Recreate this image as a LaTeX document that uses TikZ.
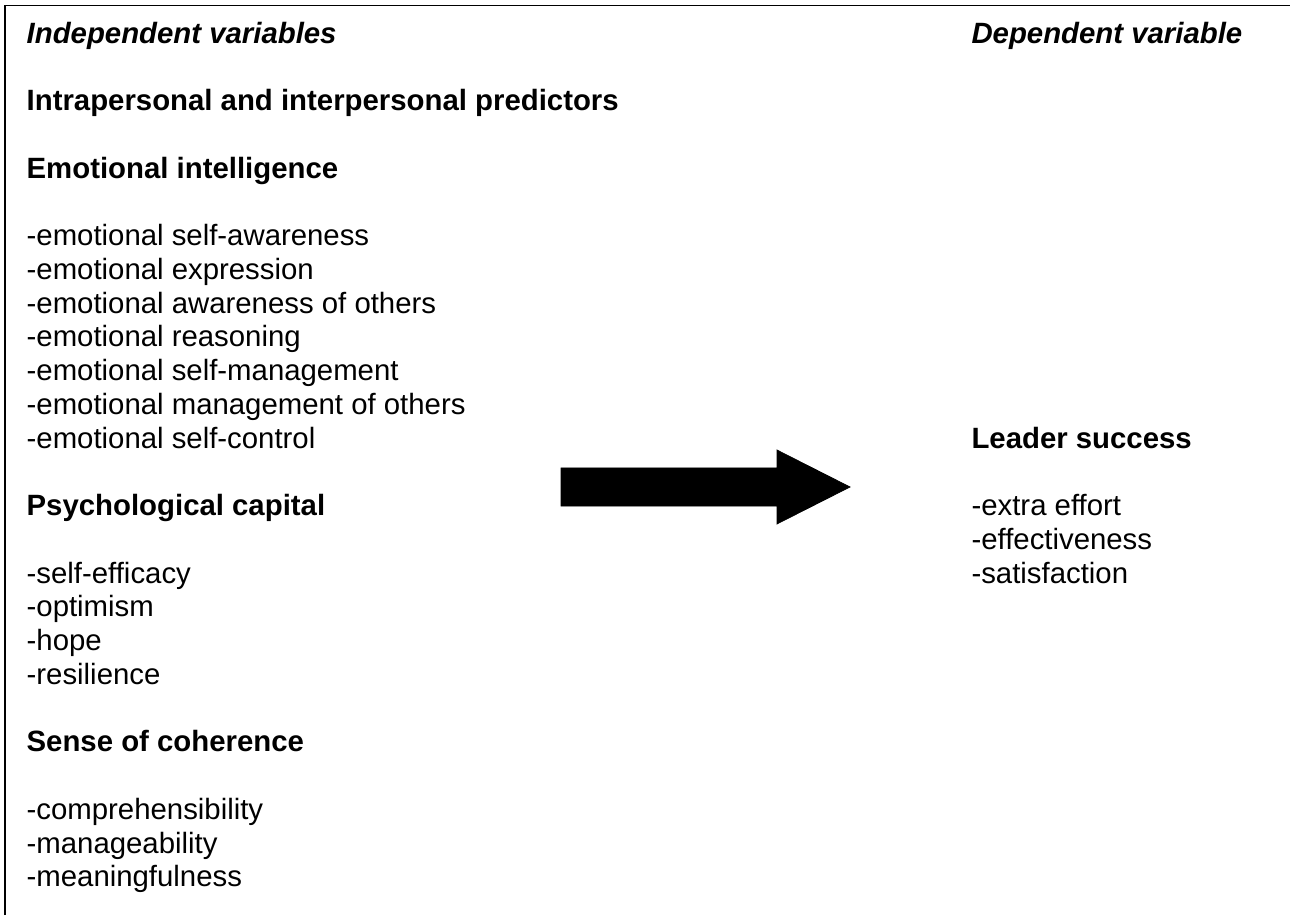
\documentclass[tikz,border=0pt]{standalone}
\usepackage{fontspec}
\setmainfont{Liberation Sans}
\begin{document}
\begin{tikzpicture}[x=1pt,y=1pt,
  txt/.style={anchor=base west, inner sep=0pt, font=\fontsize{12}{13.8}\selectfont},
  hd/.style={txt, font=\fontsize{12}{13.8}\selectfont\bfseries},
  ihd/.style={txt, font=\fontsize{12}{13.8}\selectfont\bfseries\itshape},
  frame/.style={line width=0.7pt, black},
  blockarrow/.style={fill=black, draw=black, line width=0.3pt}
]
\useasboundingbox (0,0) rectangle (527.4,-374.1);
% frame (top and left edges)
\draw[frame] (2,-374.1) -- (2,-2.2) -- (527.4,-2.2);

% left column
\node[ihd] (indep) at (10.7,-17.6) {Independent variables};
\node[hd] (intra) at (10.7,-45.2) {Intrapersonal and interpersonal predictors};
\node[hd] (ei) at (10.7,-72.8) {Emotional intelligence};
\node[txt] (ei1) at (10.7,-100.4) {-emotional self-awareness};
\node[txt] (ei2) at (10.7,-114.2) {-emotional expression};
\node[txt] (ei3) at (10.7,-128.0) {-emotional awareness of others};
\node[txt] (ei4) at (10.7,-141.8) {-emotional reasoning};
\node[txt] (ei5) at (10.7,-155.6) {-emotional self-management};
\node[txt] (ei6) at (10.7,-169.4) {-emotional management of others};
\node[txt] (ei7) at (10.7,-183.2) {-emotional self-control};
\node[hd] (pc) at (10.7,-210.8) {Psychological capital};
\node[txt] (pc1) at (10.7,-238.4) {-self-efficacy};
\node[txt] (pc2) at (10.7,-252.2) {-optimism};
\node[txt] (pc3) at (10.7,-266.0) {-hope};
\node[txt] (pc4) at (10.7,-279.8) {-resilience};
\node[hd] (soc) at (10.7,-307.4) {Sense of coherence};
\node[txt] (soc1) at (10.7,-335.0) {-comprehensibility};
\node[txt] (soc2) at (10.7,-348.8) {-manageability};
\node[txt] (soc3) at (10.7,-362.6) {-meaningfulness};

% right column
\node[ihd] (dep) at (397,-17.6) {Dependent variable};
\node[hd] (ls) at (397,-183.2) {Leader success};
\node[txt] (ls1) at (397,-210.8) {-extra effort};
\node[txt] (ls2) at (397,-224.6) {-effectiveness};
\node[txt] (ls3) at (397,-238.4) {-satisfaction};

% block arrow
\filldraw[blockarrow] (229.4,-191.3) -- (317.7,-191.3) -- (317.7,-184.0) -- (347.5,-199.1)
  -- (317.7,-214.2) -- (317.7,-206.9) -- (229.4,-206.9) -- cycle;
\end{tikzpicture}
\end{document}
